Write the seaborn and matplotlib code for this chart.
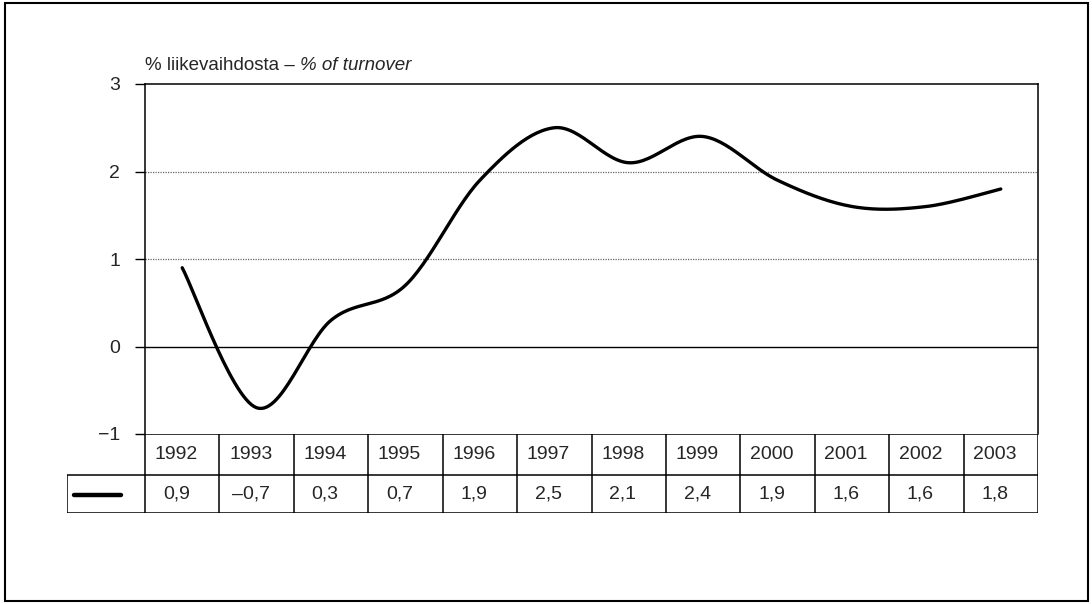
import numpy as np
import pandas as pd
import matplotlib
matplotlib.use("Agg")
import matplotlib.pyplot as plt
from matplotlib.patches import Rectangle
import seaborn as sns

years = [1992, 1993, 1994, 1995, 1996, 1997, 1998, 1999, 2000, 2001, 2002, 2003]
values = [0.9, -0.7, 0.3, 0.7, 1.9, 2.5, 2.1, 2.4, 1.9, 1.6, 1.6, 1.8]
value_labels = ["0,9", "\u20130,7", "0,3", "0,7", "1,9", "2,5", "2,1", "2,4", "1,9", "1,6", "1,6", "1,8"]
y_ticks = [-1, 0, 1, 2, 3]

sns.set_style("white")
plt.rcParams["font.family"] = ["Liberation Sans", "DejaVu Sans"]
plt.rcParams["font.size"] = 13


def smooth(xs, ys, n=30):
    # Excel-like smoothed line (Catmull-Rom through the data points)
    px = np.concatenate([[xs[0]], xs, [xs[-1]]])
    py = np.concatenate([[ys[0]], ys, [ys[-1]]])
    out_x, out_y = [], []
    t = np.linspace(0, 1, n, endpoint=False)
    for i in range(1, len(px) - 2):
        p0, p1, p2, p3 = [np.array([px[j], py[j]]) for j in (i - 1, i, i + 1, i + 2)]
        c1 = p1 + (p2 - p0) / 6
        c2 = p2 - (p3 - p1) / 6
        for tt in t:
            b = ((1 - tt) ** 3) * p1 + 3 * ((1 - tt) ** 2) * tt * c1 + 3 * (1 - tt) * tt ** 2 * c2 + tt ** 3 * p2
            out_x.append(b[0])
            out_y.append(b[1])
    out_x.append(px[-2])
    out_y.append(py[-2])
    return np.array(out_x), np.array(out_y)


W, H = 1092, 604
fig = plt.figure(figsize=(W / 100, H / 100), dpi=100)

# pixel layout
L, R, T, B = 145, 1038, 84, 434
tab_bottom, row_split, leg_left = 513, 475, 67

ax = fig.add_axes([L / W, 1 - B / H, (R - L) / W, (B - T) / H])
pos_x = np.arange(len(years))
sx, sy = smooth(pos_x.astype(float), np.array(values))
df = pd.DataFrame({"x": sx, "y": sy})
ax.axhline(0, color="black", lw=1, zorder=1)
for g in (1, 2):
    ax.axhline(g, color="#666666", lw=0.9, ls=(0, (1, 1)), zorder=1)
sns.lineplot(data=df, x="x", y="y", ax=ax, color="black", lw=2.4, sort=False,
             estimator=None, zorder=3)
ax.set_xlim(-0.5, len(years) - 0.5)
ax.set_ylim(-1, 3)
ax.set_yticks(y_ticks)
ax.set_yticklabels([str(v).replace("-", "\u2212") for v in y_ticks])
ax.set_xticks([])
ax.set_xlabel("")
ax.set_ylabel("")
ax.tick_params(axis="y", left=True, length=7, width=1, pad=11, color="black", labelsize=14)
for s in ax.spines.values():
    s.set_color("black")
    s.set_linewidth(1.1)
ax.spines["bottom"].set_visible(False)

t1 = ax.text(0.0, 1.03, "% liikevaihdosta \u2013 ", transform=ax.transAxes,
             ha="left", va="bottom", fontsize=13.5)
ax.annotate("% of turnover", xy=(1, 0), xycoords=t1, ha="left", va="bottom",
            fontsize=13.5, style="italic")

# data table below the plot
col_w = (R - L) / len(years)
tab = fig.add_axes([leg_left / W, 1 - tab_bottom / H, (R - leg_left) / W, (tab_bottom - B) / H])
x0 = -0.5 - (L - leg_left) / col_w
tab.set_xlim(x0, len(years) - 0.5)
tab.set_ylim(0, 2)
tab.axis("off")
y_split = (tab_bottom - row_split) / (tab_bottom - B) * 2
kw = dict(color="black", lw=1.1, solid_capstyle="butt")
tab.plot([-0.5, len(years) - 0.5], [2, 2], **kw)
tab.plot([x0, len(years) - 0.5], [y_split, y_split], **kw)
tab.plot([x0, len(years) - 0.5], [0, 0], **kw)
tab.plot([x0, x0], [0, y_split], **kw)
for i in range(len(years) + 1):
    tab.plot([i - 0.5, i - 0.5], [0, 2], **kw)
for i, (yr, lab) in enumerate(zip(years, value_labels)):
    tab.text(i - 0.08, (2 + y_split) / 2, str(yr), ha="center", va="center", fontsize=14)
    tab.text(i - 0.08, y_split / 2, lab, ha="center", va="center", fontsize=14)
tab.plot([x0 + 0.1, x0 + 0.72], [y_split / 2 - 0.02] * 2, color="black", lw=3.2)

# outer frame
fig.add_artist(Rectangle((5 / W, 1 - 601 / H), (1088 - 5) / W, (601 - 3) / H,
                         transform=fig.transFigure, fill=False, lw=1.5, ec="black"))

fig.savefig("out.png", dpi=100)
